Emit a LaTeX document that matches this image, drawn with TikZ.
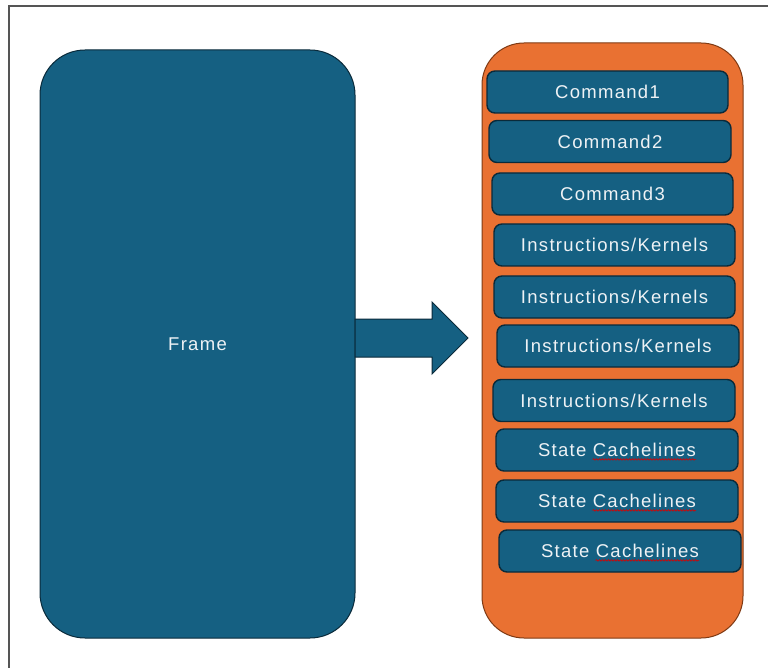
\documentclass[tikz,border=0pt]{standalone}
\usepackage{fontspec}
\setmainfont{Liberation Sans}[LetterSpace=7]
\usetikzlibrary{decorations.pathmorphing}
\definecolor{blu}{HTML}{156082}
\definecolor{bluedge}{HTML}{0A2A3A}
\definecolor{org}{HTML}{E97132}
\definecolor{orgedge}{HTML}{7F3A14}
\definecolor{txt}{HTML}{EEF2F5}
\definecolor{framegray}{HTML}{555555}
\tikzset{
  lbl/.style={text=txt, font=\fontsize{18.5}{21}\selectfont},
  bigbox/.style={draw=bluedge, fill=blu, line width=1pt, rounded corners=45pt, lbl, inner sep=0pt},
  container/.style={draw=orgedge, fill=org, line width=1pt, rounded corners=42pt, inner sep=0pt},
  item/.style={draw=bluedge, fill=blu, line width=1.4pt, rounded corners=8pt, lbl,
    minimum height=42pt, minimum width=242pt, inner sep=0pt},
  ghost/.style={lbl, inner sep=0pt},
  spell/.style={draw=red!85!black, line width=0.6pt, decorate,
    decoration={snake, amplitude=0.8pt, segment length=3pt}},
  blockarrow/.style={draw=bluedge, fill=blu, line width=1pt},
}
\begin{document}
\begin{tikzpicture}[x=1pt,y=-1pt]
\useasboundingbox (0,0) rectangle (768,668);
\fill[white] (0,0) rectangle (768,668);
\draw[framegray, line width=1.2pt] (9,668) -- (9,6) -- (768,6);

% left frame block
\node[bigbox, minimum width=315pt, minimum height=588pt] (frame) at (197.5,344) {\raisebox{-1pt}{Frame}};

% block arrow
\draw[blockarrow] (355,319) -- (432,319) -- (432,302) -- (468,338) -- (432,374) -- (432,357) -- (355,357) -- cycle;

% orange container
\node[container, minimum width=261pt, minimum height=595pt] (buf) at (612.5,340.5) {};

% items
\node[item, minimum width=241pt] (c1) at (607.5,92) {Command1};
\node[item] (c2) at (610,141.5) {Command2};
\node[item, minimum width=241pt] (c3) at (612.5,194) {Command3};
\node[item, minimum width=241pt] (i1) at (614.5,245) {Instructions/Kernels};
\node[item, minimum width=241pt] (i2) at (614.5,297) {Instructions/Kernels};
\node[item] (i3) at (618,346) {Instructions/Kernels};
\node[item] (i4) at (614,400.5) {Instructions/Kernels};
\node[item] (s1) at (617,450) {State Cachelines};
\node[item] (s2) at (617,501) {State Cachelines};
\node[item] (s3) at (620,551) {State Cachelines};

% spell-check underlines under "Cachelines"
\foreach \s in {s1,s2,s3}{
  \node[ghost] (\s t) at (\s) {\phantom{State Cachelines}};
  \node[ghost, anchor=base east] (\s w) at (\s t.base east) {\phantom{Cachelines}};
  \draw[spell] ([yshift=-2.8pt]\s w.base west) -- ([yshift=-2.8pt]\s w.base east);
}
\end{tikzpicture}
\end{document}
